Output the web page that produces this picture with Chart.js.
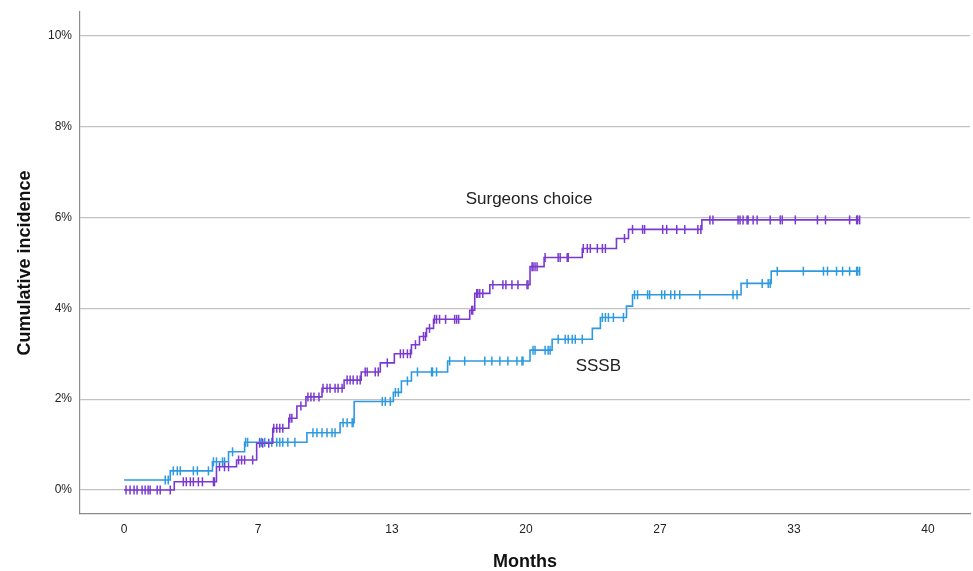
<!DOCTYPE html>
<html>
<head>
<meta charset="utf-8">
<script src="https://cdn.jsdelivr.net/npm/chart.js@4/dist/chart.umd.min.js"></script>
<style>
  html, body { margin: 0; padding: 0; background: #fff; }
  canvas { display: block; }
</style>
</head>
<body>
<canvas id="chart" width="973" height="571"></canvas>
<script>
// Axis labels
const monthTickLabels = ['0', '7', '13', '20', '27', '33', '40'];
const incidenceTicks = [0, 2, 4, 6, 8, 10];

// Surgeons choice: event times (months) and cumulative incidence (%) from that time on
const surgeonsTimes = [0, 2.5, 4.6, 5.6, 6.6, 7.4, 8.2, 8.6, 9.05, 9.85,
  10.95, 11.8, 12.75, 13.45, 14.3, 14.7, 15.05, 15.4, 17.2, 17.45,
  18.2, 20.2, 20.9, 22.8, 24.5, 25.1, 28.75, 36.6];
const surgeonsIncidence = [0, 0.18, 0.51, 0.66, 1.03, 1.36, 1.58, 1.85, 2.05, 2.24,
  2.42, 2.6, 2.8, 3.0, 3.2, 3.38, 3.56, 3.76, 3.96, 4.33,
  4.52, 4.92, 5.12, 5.32, 5.54, 5.74, 5.95, 5.95];
// Surgeons choice: censored follow-up times (months)
const surgeonsCensored = [0.1, 0.3, 0.5, 0.65, 0.9, 1.05, 1.2, 1.3, 1.65, 1.8, 2.3,
  2.95, 3.1, 3.3, 3.45, 3.7, 3.9, 4.45, 4.5,
  4.75, 5.0, 5.2,
  5.7, 5.85, 6.0, 6.4,
  6.75, 6.9, 7.2,
  7.45, 7.6, 7.75, 7.9,
  8.25, 8.35, 8.8,
  9.15, 9.3, 9.45, 9.7,
  9.9, 10.1, 10.25, 10.5, 10.65, 10.85,
  11.1, 11.25, 11.4, 11.6, 11.75,
  12.0, 12.1, 12.5, 12.65,
  13.1,
  13.75, 13.9, 14.1, 14.25,
  14.5, 14.9, 15.0, 15.2,
  15.45, 15.55, 15.7, 16.0, 16.45, 16.55, 16.65,
  17.3, 17.35,
  17.55, 17.6, 17.7, 17.85,
  18.35, 18.85, 19.0, 19.3, 19.6, 20.05, 20.1,
  20.3, 20.35, 20.45, 20.55,
  20.95, 21.6, 21.7, 22.05, 22.1,
  22.85, 23.05, 23.2, 23.55, 23.8, 23.95,
  24.9,
  25.3, 25.8, 25.9, 26.8, 27.0, 27.5, 27.9, 28.55, 28.7,
  29.15, 29.3, 30.55, 30.65, 30.8, 31.0, 31.05, 31.3, 31.5, 32.15, 32.65, 32.75,
  33.4, 34.5, 34.9, 36.1, 36.45, 36.5, 36.6];

// SSSB: event times (months) and cumulative incidence (%)
const sssbTimes = [0, 2.3, 4.4, 5.2, 6.0, 9.1, 10.75, 11.45, 13.4, 13.8,
  14.3, 16.1, 20.2, 21.3, 23.3, 23.7, 25.0, 25.3, 30.7, 32.2, 36.6];
const sssbIncidence = [0.22, 0.42, 0.62, 0.84, 1.05, 1.26, 1.48, 1.95, 2.15, 2.4,
  2.6, 2.84, 3.08, 3.32, 3.56, 3.8, 4.05, 4.3, 4.55, 4.82, 4.82];
// SSSB: censored follow-up times (months)
const sssbCensored = [2.05, 2.2,
  2.45, 2.65, 2.8, 3.45, 3.65, 4.2,
  4.45, 4.6, 4.9, 5.0,
  5.4,
  6.05, 6.15, 6.75, 6.85, 7.0, 7.35, 7.6, 7.75, 7.9, 8.15, 8.5,
  9.4, 9.6, 9.85, 10.1, 10.35, 10.5,
  10.9, 11.1, 11.35, 11.4,
  12.85, 13.0, 13.25,
  13.5, 13.65,
  14.1,
  14.6, 15.3, 15.35, 15.55,
  16.2, 16.95, 17.95, 18.3, 18.7, 19.1, 19.55, 19.8, 19.85,
  20.35, 20.45, 20.95, 21.1, 21.2,
  21.6, 21.95, 22.1, 22.3, 22.45, 22.8,
  23.8, 23.95, 24.1, 24.35, 24.85,
  25.4, 25.55, 26.05, 26.15, 26.75, 26.9, 27.2, 27.4, 27.65, 28.65, 30.3, 30.5,
  31.0, 31.75, 32.05, 32.15,
  32.5, 33.8, 34.8, 35.0, 35.45, 35.75, 36.1, 36.45, 36.5, 36.6];

const PURPLE = '#7a3ad0';
const BLUE = '#2d9ae0';
const FONT = "'Liberation Sans', Arial, sans-serif";

// Step curve points
function curve(times, values) {
  return times.map((t, i) => ({ x: t, y: values[i] }));
}
// Level of a step curve at time t
function levelAt(times, values, t) {
  let v = values[0];
  for (let i = 0; i < times.length; i++) {
    if (times[i] <= t) v = values[i];
  }
  return v;
}
function censorPoints(censored, times, values) {
  return censored.map(t => ({ x: t, y: levelAt(times, values, t) }));
}

// Curve name labels placed in data coordinates
const curveLabels = {
  id: 'curveLabels',
  afterDatasetsDraw(chart) {
    const { ctx, scales: { x, y } } = chart;
    ctx.save();
    ctx.font = '17px ' + FONT;
    ctx.fillStyle = '#222';
    ctx.textAlign = 'center';
    ctx.textBaseline = 'middle';
    ctx.fillText('Surgeons choice', x.getPixelForValue(20.15), y.getPixelForValue(6.4));
    ctx.fillText('SSSB', x.getPixelForValue(23.6), y.getPixelForValue(2.73));
    ctx.restore();
  }
};

Chart.defaults.font.family = FONT;

new Chart(document.getElementById('chart'), {
  type: 'line',
  data: {
    datasets: [
      {
        label: 'Surgeons choice',
        data: curve(surgeonsTimes, surgeonsIncidence),
        stepped: 'before',
        borderColor: PURPLE,
        borderWidth: 1.6,
        pointRadius: 0,
        fill: false
      },
      {
        label: 'SSSB',
        data: curve(sssbTimes, sssbIncidence),
        stepped: 'before',
        borderColor: BLUE,
        borderWidth: 1.6,
        pointRadius: 0,
        fill: false
      },
      {
        type: 'scatter',
        label: 'Surgeons choice censored',
        data: censorPoints(surgeonsCensored, surgeonsTimes, surgeonsIncidence),
        pointStyle: 'line',
        rotation: 90,
        radius: 4.5,
        borderColor: PURPLE,
        backgroundColor: PURPLE,
        borderWidth: 1.5,
        showLine: false
      },
      {
        type: 'scatter',
        label: 'SSSB censored',
        data: censorPoints(sssbCensored, sssbTimes, sssbIncidence),
        pointStyle: 'line',
        rotation: 90,
        radius: 4.5,
        borderColor: BLUE,
        backgroundColor: BLUE,
        borderWidth: 1.5,
        showLine: false
      }
    ]
  },
  options: {
    responsive: false,
    animation: false,
    events: [],
    layout: { autoPadding: false, padding: { top: 12, right: 3, left: 0, bottom: 0 } },
    plugins: {
      legend: { display: false },
      tooltip: { enabled: false }
    },
    scales: {
      x: {
        type: 'linear',
        min: -2.19,
        max: 42.09,
        afterBuildTicks(scale) {
          const step = 40 / (monthTickLabels.length - 1);
          scale.ticks = monthTickLabels.map((_, i) => ({ value: i * step }));
        },
        afterFit(scale) {
          scale.height = 57;
          scale.paddingLeft = 0;
          scale.paddingRight = 0;
        },
        ticks: {
          callback: (v, i) => monthTickLabels[i],
          font: { size: 12 },
          color: '#222',
          padding: 8,
          maxRotation: 0,
          autoSkip: false
        },
        grid: { display: false, drawTicks: false },
        border: { display: true, color: '#8c8c8c', width: 1.2 },
        title: {
          display: true,
          text: 'Months',
          font: { size: 18, weight: 'bold', lineHeight: 1 },
          color: '#111',
          padding: { top: 0, bottom: 0 }
        }
      },
      y: {
        type: 'linear',
        min: -0.53,
        max: 10.53,
        afterBuildTicks(scale) {
          scale.ticks = incidenceTicks.map(v => ({ value: v }));
        },
        afterFit(scale) {
          scale.width = 80;
          scale.paddingTop = 0;
          scale.paddingBottom = 0;
        },
        ticks: {
          callback: v => v + '%',
          font: { size: 12 },
          color: '#222',
          padding: 8
        },
        grid: { display: true, drawTicks: false, color: '#c2c2c2', lineWidth: 1.2 },
        border: { display: true, color: '#8c8c8c', width: 1.2 },
        title: {
          display: true,
          text: 'Cumulative incidence',
          font: { size: 18, weight: 'bold' },
          color: '#111',
          padding: { top: 14, bottom: 0 }
        }
      }
    }
  },
  plugins: [curveLabels]
});
</script>
</body>
</html>
